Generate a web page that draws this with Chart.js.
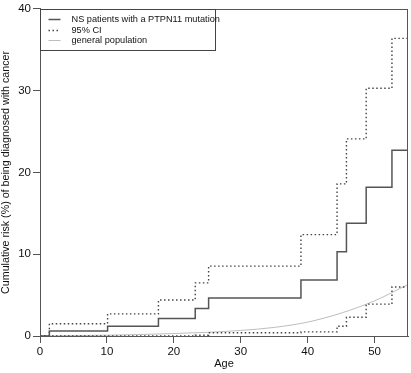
<!DOCTYPE html>
<html>
<head>
<meta charset="utf-8">
<script src="https://cdn.jsdelivr.net/npm/chart.js@4"></script>
<style>
html,body{margin:0;padding:0;background:#fff;}
#wrap{width:411px;height:373px;position:relative;}
</style>
</head>
<body>
<div id="wrap"><canvas id="c" width="411" height="373"></canvas></div>
<script>
// ---- data ----
const stepAges   = [0, 1.4, 10.1, 17.7, 23.2, 25.2, 39.0, 44.4, 45.8, 48.75, 52.6, 55];
const riskNS     = [0, 0.6, 1.2, 2.15, 3.35, 4.65, 6.85, 10.3, 13.8, 18.2, 22.7, 22.7];
const upperCI    = [0, 1.5, 2.7, 4.4, 6.5, 8.55, 12.4, 18.6, 24.1, 30.3, 36.4, 36.4];
const lowerCI    = [0, 0, 0, 0, 0.1, 0.4, 0.5, 1.2, 2.3, 3.9, 6.0, 6.0];
const popAges    = [0, 5, 10, 15, 20, 25, 30, 35, 40, 45, 50, 55];
const popRisk    = [0, 0.05, 0.1, 0.18, 0.3, 0.45, 0.68, 1.05, 1.7, 2.8, 4.3, 6.3];
const xTicks     = [0, 10, 20, 30, 40, 50];
const yTicks     = [0, 10, 20, 30, 40];
const labels     = ['NS patients with a PTPN11 mutation', '95% CI', 'general population'];

const pts = (xs, ys) => xs.map((x, i) => ({x: x, y: ys[i]}));
const FONT = "'Liberation Sans', Arial, Helvetica, sans-serif";

const boxPlugin = {
  id: 'box',
  afterDatasetsDraw(chart) {
    const {ctx, chartArea: a} = chart;
    ctx.save();
    ctx.strokeStyle = '#555';
    ctx.lineWidth = 1;
    ctx.strokeRect(Math.round(a.left) + 0.5, Math.round(a.top) + 0.5,
                   Math.round(a.right - a.left) - 1, Math.round(a.bottom - a.top));
    // legend box
    const lx = Math.round(a.left) + 0.5, ly = Math.round(a.top) + 0.5;
    const lw = 175, lh = 41;
    ctx.fillStyle = '#fff';
    ctx.fillRect(lx, ly, lw, lh);
    ctx.strokeStyle = '#444';
    ctx.strokeRect(lx, ly, lw, lh);
    const rows = [9.5, 20, 30.5];
    const order = [0, 1, 3];
    ctx.font = '9.2px ' + FONT;
    ctx.textBaseline = 'middle';
    ctx.textAlign = 'left';
    order.forEach((di, r) => {
      const ds = chart.data.datasets[di];
      const y = Math.round(ly + rows[r]) + 0.5;
      ctx.beginPath();
      ctx.strokeStyle = ds.borderColor;
      ctx.lineWidth = ds.borderWidth;
      ctx.setLineDash(ds.borderDash || []);
      ctx.moveTo(lx + 8, y);
      ctx.lineTo(lx + 20, y);
      ctx.stroke();
      ctx.setLineDash([]);
      ctx.fillStyle = '#111';
      ctx.fillText(labels[r], lx + 31, y);
    });
    ctx.restore();
  }
};

new Chart(document.getElementById('c'), {
  type: 'line',
  data: {
    datasets: [
      {label: labels[0], data: pts(stepAges, riskNS), stepped: 'before',
       borderColor: '#555', borderWidth: 1.5, pointRadius: 0, fill: false},
      {label: labels[1], data: pts(stepAges, upperCI), stepped: 'before',
       borderColor: '#444', borderWidth: 1.4, borderDash: [1.5, 2.5], pointRadius: 0, fill: false},
      {label: labels[1] + ' lower', data: pts(stepAges, lowerCI), stepped: 'before',
       borderColor: '#444', borderWidth: 1.4, borderDash: [1.5, 2.5], pointRadius: 0, fill: false},
      {label: labels[2], data: pts(popAges, popRisk), cubicInterpolationMode: 'monotone',
       borderColor: '#bdbdbd', borderWidth: 1, pointRadius: 0, fill: false}
    ]
  },
  options: {
    responsive: false,
    animation: false,
    devicePixelRatio: 1,
    layout: {padding: {top: 6, right: 3, left: 0, bottom: 0}},
    plugins: {legend: {display: false}, tooltip: {enabled: false}},
    scales: {
      x: {
        type: 'linear', min: 0, max: 55,
        afterBuildTicks: s => { s.ticks = xTicks.map(v => ({value: v})); },
        afterFit: s => { s.height = 37; },
        grid: {drawOnChartArea: false, drawTicks: true, tickLength: 7, color: '#555', lineWidth: 1},
        border: {display: true, color: '#555', width: 1},
        ticks: {padding: 2, color: '#111', font: {family: FONT, size: 11.5}, maxRotation: 0},
        title: {display: true, text: 'Age', color: '#111', font: {family: FONT, size: 11},
                padding: {top: 0, bottom: 2}}
      },
      y: {
        type: 'linear', min: 0, max: 40,
        afterBuildTicks: s => { s.ticks = yTicks.map(v => ({value: v})); },
        afterFit: s => { s.width = 40; },
        grid: {drawOnChartArea: false, drawTicks: true, tickLength: 7, color: '#555', lineWidth: 1},
        border: {display: true, color: '#555', width: 1},
        ticks: {padding: 2, color: '#111', font: {family: FONT, size: 11.5}},
        title: {display: true, text: 'Cumulative risk (%) of being diagnosed with cancer',
                color: '#111', font: {family: FONT, size: 10.7}, padding: {top: 0, bottom: 0}}
      }
    }
  },
  plugins: [boxPlugin]
});
</script>
</body>
</html>
